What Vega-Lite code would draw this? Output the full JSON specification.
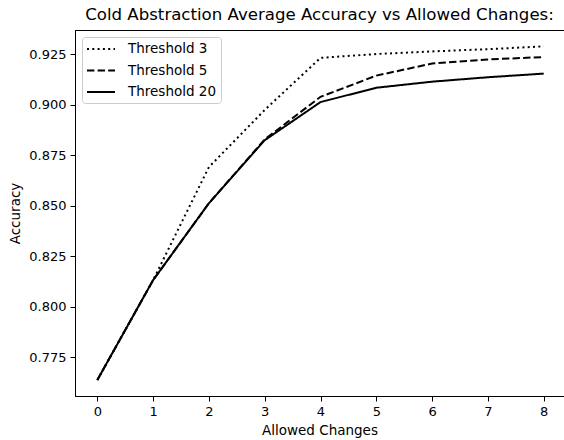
{
  "$schema": "https://vega.github.io/schema/vega-lite/v6.json",
  "width": 489,
  "height": 366,
  "autosize": {"type": "none"},
  "padding": {"left": 75, "top": 30, "right": 0, "bottom": 44},
  "background": "white",
  "config": {
    "font": "DejaVu Sans",
    "view": {"stroke": "black", "strokeWidth": 1},
    "axis": {"grid": false, "domainColor": "black", "tickColor": "black", "labelColor": "black", "titleColor": "black", "labelFontSize": 13, "titleFontSize": 13.5, "titleFontWeight": "normal", "tickSize": 5, "labelPadding": 4, "domainWidth": 1, "tickWidth": 1},
    "legend": {"labelFontSize": 13.5}
  },
  "title": {"text": "Cold Abstraction Average Accuracy vs Allowed Changes:", "fontSize": 16.6, "fontWeight": "normal", "anchor": "middle", "color": "black", "offset": 6},
  "data": {"values": [
    {"changes": 0, "accuracy": 0.7637, "series": "Threshold 3"},
    {"changes": 1, "accuracy": 0.8132, "series": "Threshold 3"},
    {"changes": 2, "accuracy": 0.8692, "series": "Threshold 3"},
    {"changes": 3, "accuracy": 0.8975, "series": "Threshold 3"},
    {"changes": 4, "accuracy": 0.9233, "series": "Threshold 3"},
    {"changes": 5, "accuracy": 0.9252, "series": "Threshold 3"},
    {"changes": 6, "accuracy": 0.9265, "series": "Threshold 3"},
    {"changes": 7, "accuracy": 0.9276, "series": "Threshold 3"},
    {"changes": 8, "accuracy": 0.9290, "series": "Threshold 3"},
    {"changes": 0, "accuracy": 0.7637, "series": "Threshold 5"},
    {"changes": 1, "accuracy": 0.8132, "series": "Threshold 5"},
    {"changes": 2, "accuracy": 0.8513, "series": "Threshold 5"},
    {"changes": 3, "accuracy": 0.8829, "series": "Threshold 5"},
    {"changes": 4, "accuracy": 0.9040, "series": "Threshold 5"},
    {"changes": 5, "accuracy": 0.9145, "series": "Threshold 5"},
    {"changes": 6, "accuracy": 0.9205, "series": "Threshold 5"},
    {"changes": 7, "accuracy": 0.9225, "series": "Threshold 5"},
    {"changes": 8, "accuracy": 0.9237, "series": "Threshold 5"},
    {"changes": 0, "accuracy": 0.7637, "series": "Threshold 20"},
    {"changes": 1, "accuracy": 0.8132, "series": "Threshold 20"},
    {"changes": 2, "accuracy": 0.8513, "series": "Threshold 20"},
    {"changes": 3, "accuracy": 0.8825, "series": "Threshold 20"},
    {"changes": 4, "accuracy": 0.9014, "series": "Threshold 20"},
    {"changes": 5, "accuracy": 0.9085, "series": "Threshold 20"},
    {"changes": 6, "accuracy": 0.9115, "series": "Threshold 20"},
    {"changes": 7, "accuracy": 0.9137, "series": "Threshold 20"},
    {"changes": 8, "accuracy": 0.9155, "series": "Threshold 20"}
  ]},
  "mark": {"type": "line", "color": "black", "strokeWidth": 2, "clip": true},
  "encoding": {
    "x": {"field": "changes", "type": "quantitative", "title": "Allowed Changes",
      "scale": {"domain": [-0.4, 8.364], "nice": false, "zero": false},
      "axis": {"values": [0, 1, 2, 3, 4, 5, 6, 7, 8], "format": "d", "titlePadding": 5}},
    "y": {"field": "accuracy", "type": "quantitative", "title": "Accuracy",
      "scale": {"domain": [0.7558, 0.9371], "nice": false, "zero": false},
      "axis": {"values": [0.775, 0.8, 0.825, 0.85, 0.875, 0.9, 0.925], "format": ".3f", "titlePadding": 6}},
    "strokeDash": {"field": "series", "type": "nominal",
      "scale": {"domain": ["Threshold 3", "Threshold 5", "Threshold 20"], "range": [[2, 3.3], [7.4, 3.2], [1, 0]]},
      "legend": {"title": null, "orient": "top-left", "offset": 7, "symbolType": "M-1,0H3", "symbolSize": 196, "symbolStrokeWidth": 2, "symbolStrokeColor": "black", "symbolFillColor": "transparent", "labelFontSize": 13.5, "labelColor": "black", "labelOffset": 26, "padding": 4, "rowPadding": 6.5, "strokeColor": "#cccccc", "fillColor": "rgba(255,255,255,0.8)", "cornerRadius": 3}}
  }
}
